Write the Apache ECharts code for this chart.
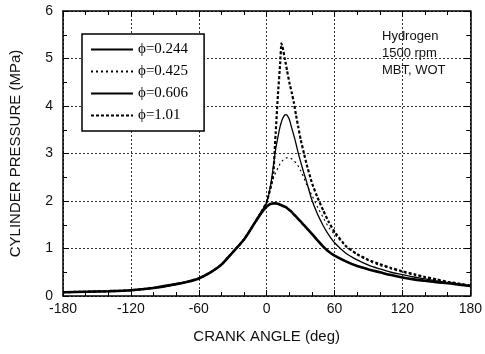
<!DOCTYPE html>
<html>
<head>
<meta charset="utf-8">
<script src="https://cdn.jsdelivr.net/npm/echarts@6/dist/echarts.min.js"></script>
<style>html,body{margin:0;padding:0;background:#fff;}#c{width:485px;height:354px;}</style>
</head>
<body>
<div id="c"></div>
<script>
// Crank angle (deg) sample points
const angles = [-180,-160,-140,-120,-100,-80,-70,-60,-50,-40,-30,-20,-15,-10,-5,0,2,4,6,8,10,12,13,14,16,17,18,20,22,24,26,28,30,33,35,40,45,50,55,60,70,80,90,100,110,120,130,140,150,160,170,180];
// Cylinder pressure (MPa)
const p0244 = [0.08,0.09,0.10,0.12,0.17,0.25,0.30,0.37,0.49,0.66,0.92,1.19,1.37,1.56,1.74,1.88,1.92,1.94,1.95,1.95,1.94,1.92,1.91,1.90,1.88,1.87,1.85,1.81,1.77,1.72,1.67,1.62,1.57,1.49,1.44,1.31,1.17,1.04,0.93,0.85,0.73,0.63,0.56,0.50,0.44,0.39,0.35,0.32,0.29,0.27,0.24,0.21];
const p0425 = [0.08,0.09,0.10,0.12,0.17,0.25,0.30,0.37,0.49,0.66,0.92,1.19,1.37,1.56,1.76,1.97,2.12,2.30,2.48,2.60,2.70,2.79,2.82,2.85,2.89,2.90,2.91,2.91,2.89,2.85,2.80,2.73,2.64,2.48,2.36,2.12,1.87,1.65,1.44,1.30,1.05,0.87,0.74,0.64,0.57,0.50,0.44,0.39,0.34,0.30,0.26,0.22];
const p0606 = [0.08,0.09,0.10,0.12,0.17,0.25,0.30,0.37,0.49,0.66,0.92,1.19,1.37,1.56,1.76,1.97,2.15,2.40,2.75,3.10,3.35,3.58,3.66,3.73,3.81,3.82,3.81,3.72,3.55,3.38,3.20,3.00,2.83,2.58,2.43,2.02,1.72,1.48,1.28,1.12,0.90,0.76,0.65,0.57,0.50,0.45,0.40,0.36,0.32,0.28,0.25,0.21];
const p101  = [0.08,0.09,0.10,0.12,0.17,0.25,0.30,0.37,0.49,0.66,0.92,1.19,1.37,1.56,1.76,1.97,2.15,2.35,2.60,3.45,4.25,4.92,5.32,5.25,5.00,4.88,4.75,4.50,4.30,4.08,3.80,3.55,3.30,3.00,2.80,2.38,2.07,1.80,1.55,1.35,1.05,0.88,0.76,0.67,0.59,0.52,0.46,0.40,0.35,0.30,0.26,0.22];
const seriesNames = ['\u03d5=0.244','\u03d5=0.425','\u03d5=0.606','\u03d5=1.01'];
const xTicks = {min:-180, max:180, step:60};
const yTicks = {min:0, max:6, step:1};

const pair = arr => angles.map((a,i)=>[a,arr[i]]);
const sans = 'Liberation Sans, Arial, Helvetica, sans-serif';
const serif = 'Liberation Serif, Times New Roman, serif';

const chart = echarts.init(document.getElementById('c'), null, {renderer:'canvas'});
const gridLine = {show:true, lineStyle:{color:'#333', type:[2,2], width:1}};
const axLine = {show:true, onZero:false, lineStyle:{color:'#000', width:1.5}};
chart.setOption({
  animation:false,
  backgroundColor:'#fff',
  grid:{left:62, right:14, top:11, bottom:58, containLabel:false},
  xAxis:[{
    type:'value', min:xTicks.min, max:xTicks.max, interval:xTicks.step, position:'bottom',
    name:'CRANK ANGLE (deg)', nameLocation:'middle', nameGap:33,
    nameTextStyle:{fontFamily:sans, fontSize:15, color:'#111'},
    axisLine:axLine,
    axisTick:{show:true, inside:true, length:6, lineStyle:{color:'#000'}},
    minorTick:{show:true, splitNumber:3, length:4, lineStyle:{color:'#000'}},
    axisLabel:{fontFamily:sans, fontSize:14, color:'#111', margin:6},
    splitLine:gridLine
  },{
    type:'value', min:xTicks.min, max:xTicks.max, interval:xTicks.step, position:'top',
    axisLine:axLine,
    axisTick:{show:true, inside:true, length:6, lineStyle:{color:'#000'}},
    minorTick:{show:true, splitNumber:3, length:4, lineStyle:{color:'#000'}},
    axisLabel:{show:false}, splitLine:{show:false}
  }],
  yAxis:[{
    type:'value', min:yTicks.min, max:yTicks.max, interval:yTicks.step, position:'left',
    name:'CYLINDER PRESSURE (MPa)', nameLocation:'middle', nameGap:40,
    nameTextStyle:{fontFamily:sans, fontSize:15, color:'#111'},
    axisLine:axLine,
    axisTick:{show:true, inside:true, length:6, lineStyle:{color:'#000'}},
    minorTick:{show:true, splitNumber:2, length:4, lineStyle:{color:'#000'}},
    axisLabel:{fontFamily:sans, fontSize:14, color:'#111', margin:10},
    splitLine:gridLine
  },{
    type:'value', min:yTicks.min, max:yTicks.max, interval:yTicks.step, position:'right',
    axisLine:axLine,
    axisTick:{show:true, inside:true, length:6, lineStyle:{color:'#000'}},
    minorTick:{show:true, splitNumber:2, length:4, lineStyle:{color:'#000'}},
    axisLabel:{show:false}, splitLine:{show:false}
  }],
  legend:{
    orient:'vertical', left:82, top:34, padding:[8,16,8,8], itemGap:7,
    itemWidth:42, itemHeight:14,
    backgroundColor:'#fff', borderColor:'#000', borderWidth:1.5,
    textStyle:{fontFamily:serif, fontSize:15, color:'#000'},
    itemStyle:{opacity:0},
    data:seriesNames
  },
  graphic:[{
    type:'text', left:382, top:28, z:100,
    style:{text:'Hydrogen\n1500 rpm\nMBT, WOT', font:'13px '+sans, fill:'#111', align:'center', lineHeight:17}
  }],
  series:[
    {name:seriesNames[0], type:'line', data:pair(p0244), showSymbol:false, symbol:'none', z:4, smooth:0.3,
     lineStyle:{color:'#000', width:2.6, type:'solid'}, itemStyle:{color:'#000'}},
    {name:seriesNames[1], type:'line', data:pair(p0425), showSymbol:false, symbol:'none', z:3, smooth:0.3,
     lineStyle:{color:'#000', width:1.1, type:[2,3]}, itemStyle:{color:'#000'}},
    {name:seriesNames[2], type:'line', data:pair(p0606), showSymbol:false, symbol:'none', z:3, smooth:0.3,
     lineStyle:{color:'#000', width:1.3, type:'solid'}, itemStyle:{color:'#000'}},
    {name:seriesNames[3], type:'line', data:pair(p101), showSymbol:false, symbol:'none', z:3, smooth:0.1,
     lineStyle:{color:'#000', width:2.2, type:[3,2]}, itemStyle:{color:'#000'}}
  ]
});
</script>
</body>
</html>
